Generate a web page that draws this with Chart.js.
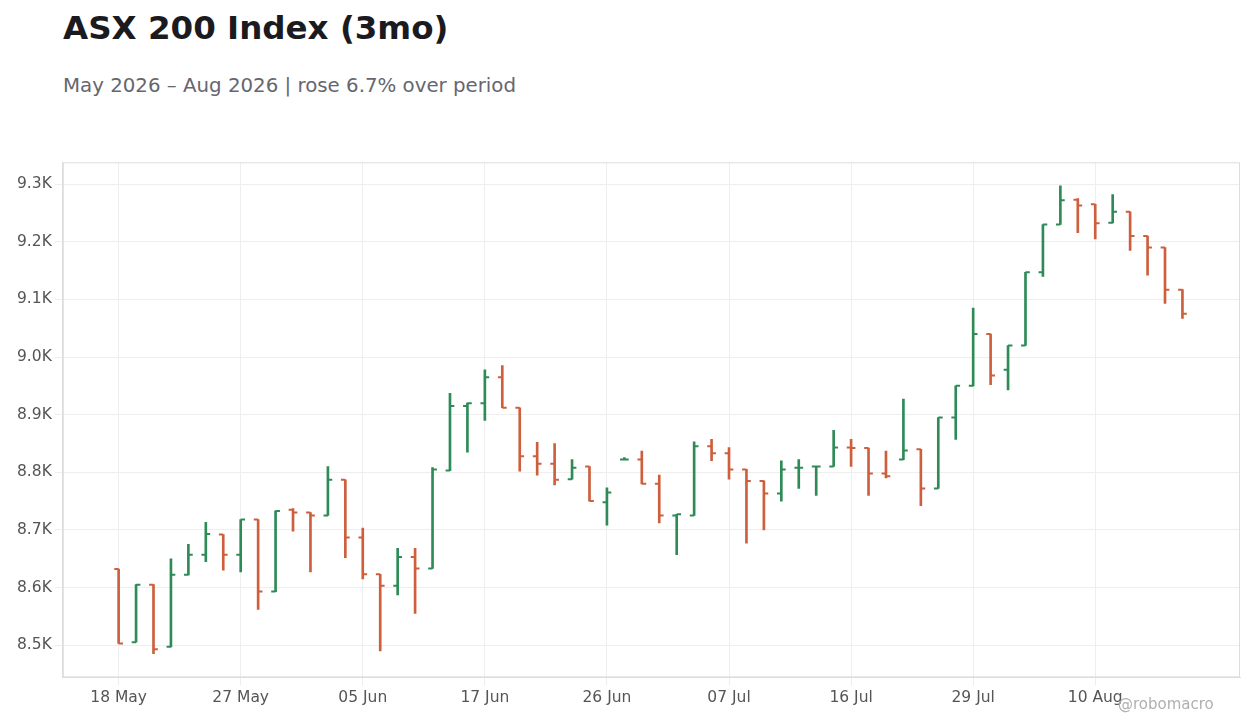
<!DOCTYPE html>
<html>
<head>
<meta charset="utf-8">
<script src="https://cdn.jsdelivr.net/npm/chart.js@4/dist/chart.umd.min.js"></script>
<style>
  body { margin: 0; background: #fff; font-family: "DejaVu Sans", sans-serif; }
  #wrap { position: relative; width: 1260px; height: 728px; }
  h1 { position: absolute; left: 63px; top: 9px; margin: 0; font-size: 32.5px; font-weight: bold; color: #1a1a1f; }
  .sub { position: absolute; left: 63px; top: 74px; font-size: 19.8px; color: #666670; }
  .mark { position: absolute; left: 1118px; top: 695px; font-size: 15px; color: #b0b0b0; }
  #box { position: absolute; left: 0; top: 150px; width: 1250px; height: 560px; }
</style>
</head>
<body>
<div id="wrap">
  <h1>ASX 200 Index (3mo)</h1>
  <div class="sub">May 2026 – Aug 2026 | rose 6.7% over period</div>
  <div id="box"><canvas id="c"></canvas></div>
  <div class="mark">@robomacro</div>
</div>
<script>
var dates = ['18 May','19 May','20 May','21 May','22 May','25 May','26 May',
  '27 May','28 May','29 May','01 Jun','02 Jun','03 Jun','04 Jun',
  '05 Jun','09 Jun','10 Jun','11 Jun','12 Jun','15 Jun','16 Jun',
  '17 Jun','18 Jun','19 Jun','22 Jun','23 Jun','24 Jun','25 Jun',
  '26 Jun','29 Jun','30 Jun','01 Jul','02 Jul','03 Jul','06 Jul',
  '07 Jul','08 Jul','09 Jul','10 Jul','13 Jul','14 Jul','15 Jul',
  '16 Jul','17 Jul','20 Jul','21 Jul','22 Jul','23 Jul','28 Jul',
  '29 Jul','30 Jul','31 Jul','03 Aug','04 Aug','05 Aug','06 Aug',
  '10 Aug','11 Aug','12 Aug','13 Aug','14 Aug','17 Aug'];
var opens = [8632,8505,8605,8497,8622,8657,8692,8657,8718,8593,8735,8730,8725,8787,8687,8623,8603,8653,8633,8803,8915,8920,8965,8912,8828,8815,8788,8810,8748,8822,8822,8780,8725,8725,8845,8833,8805,8785,8763,8808,8810,8810,8843,8842,8798,8822,8840,8772,8895,8950,9040,8978,9020,9147,9230,9273,9265,9233,9252,9210,9190,9117];
var highs = [8632,8605,8605,8650,8675,8713,8692,8718,8718,8733,8737,8730,8810,8787,8703,8623,8668,8668,8808,8937,8920,8978,8985,8912,8852,8850,8822,8810,8773,8822,8837,8795,8727,8853,8857,8843,8805,8785,8820,8822,8810,8873,8857,8842,8837,8927,8840,8895,8950,9085,9040,9020,9147,9230,9297,9275,9265,9282,9252,9210,9190,9117];
var lows = [8503,8505,8485,8497,8622,8645,8630,8627,8562,8593,8698,8627,8725,8652,8615,8490,8587,8555,8633,8803,8835,8890,8912,8802,8795,8778,8788,8750,8708,8822,8780,8712,8657,8725,8820,8788,8677,8700,8750,8772,8760,8810,8810,8760,8790,8822,8742,8772,8857,8950,8952,8943,9020,9140,9230,9216,9205,9233,9185,9142,9093,9067];
var closes = [8503,8605,8493,8622,8657,8693,8657,8718,8593,8733,8730,8725,8787,8687,8623,8603,8653,8633,8805,8915,8920,8965,8912,8828,8815,8787,8808,8750,8765,8822,8780,8725,8727,8845,8833,8805,8785,8763,8805,8808,8810,8843,8842,8798,8793,8838,8772,8895,8950,9040,8968,9020,9147,9230,9272,9263,9232,9252,9210,9190,9117,9075];
var yTicks = [8500,8600,8700,8800,8900,9000,9100,9200,9300];
var xTicks = [0,7,14,21,28,35,42,49,56];

var UP = '#2e8b57', DOWN = '#cd5f3d';
var colors = opens.map(function (o, i) { return closes[i] >= o ? UP : DOWN; });

var ohlcTicks = {
  id: 'ohlcTicks',
  afterDatasetsDraw: function (chart) {
    var x = chart.scales.x, y = chart.scales.y, ctx = chart.ctx;
    var w = Math.abs(x.getPixelForValue(1) - x.getPixelForValue(0)) * 0.25;
    ctx.save();
    ctx.lineWidth = 2;
    opens.forEach(function (o, i) {
      var px = x.getPixelForValue(i);
      ctx.strokeStyle = colors[i];
      ctx.beginPath();
      ctx.moveTo(px - w, y.getPixelForValue(o));
      ctx.lineTo(px, y.getPixelForValue(o));
      ctx.moveTo(px, y.getPixelForValue(closes[i]));
      ctx.lineTo(px + w, y.getPixelForValue(closes[i]));
      ctx.stroke();
    });
    ctx.restore();
  }
};

new Chart(document.getElementById('c'), {
  type: 'bar',
  data: {
    datasets: [{
      data: lows.map(function (l, i) { return { x: i, y: [l, highs[i]] }; }),
      backgroundColor: colors,
      borderWidth: 0,
      barThickness: 2,
      minBarLength: 2
    }]
  },
  options: {
    responsive: true,
    maintainAspectRatio: false,
    animation: false,
    layout: { padding: { left: 14, right: 10, top: 2, bottom: 0 } },
    plugins: { legend: { display: false }, tooltip: { enabled: false } },
    scales: {
      x: {
        type: 'linear', min: -3.2, max: 64.3, offset: false,
        afterBuildTicks: function (s) { s.ticks = xTicks.map(function (v) { return { value: v }; }); },
        ticks: { color: '#555', font: { size: 15.5, family: 'DejaVu Sans' }, maxRotation: 0,
          callback: function (v) { return dates[v]; } },
        grid: { color: '#eeeeee', offset: false },
        border: { color: '#dddddd' }
      },
      y: {
        min: 8444, max: 9338,
        afterBuildTicks: function (s) { s.ticks = yTicks.map(function (v) { return { value: v }; }); },
        ticks: { color: '#555', font: { size: 15.5, family: 'DejaVu Sans' },
          callback: function (v) { return (v / 1000).toFixed(1) + 'K'; } },
        grid: { color: '#eeeeee' },
        border: { color: '#dddddd' }
      }
    }
  },
  plugins: [ohlcTicks, {
    id: 'frame',
    afterDraw: function (chart) {
      var a = chart.chartArea, ctx = chart.ctx;
      ctx.save();
      ctx.strokeStyle = '#dddddd';
      ctx.lineWidth = 1;
      ctx.strokeRect(a.left + 0.5, a.top + 0.5, a.width - 1, a.height - 1);
      ctx.restore();
    }
  }]
});
</script>
</body>
</html>
